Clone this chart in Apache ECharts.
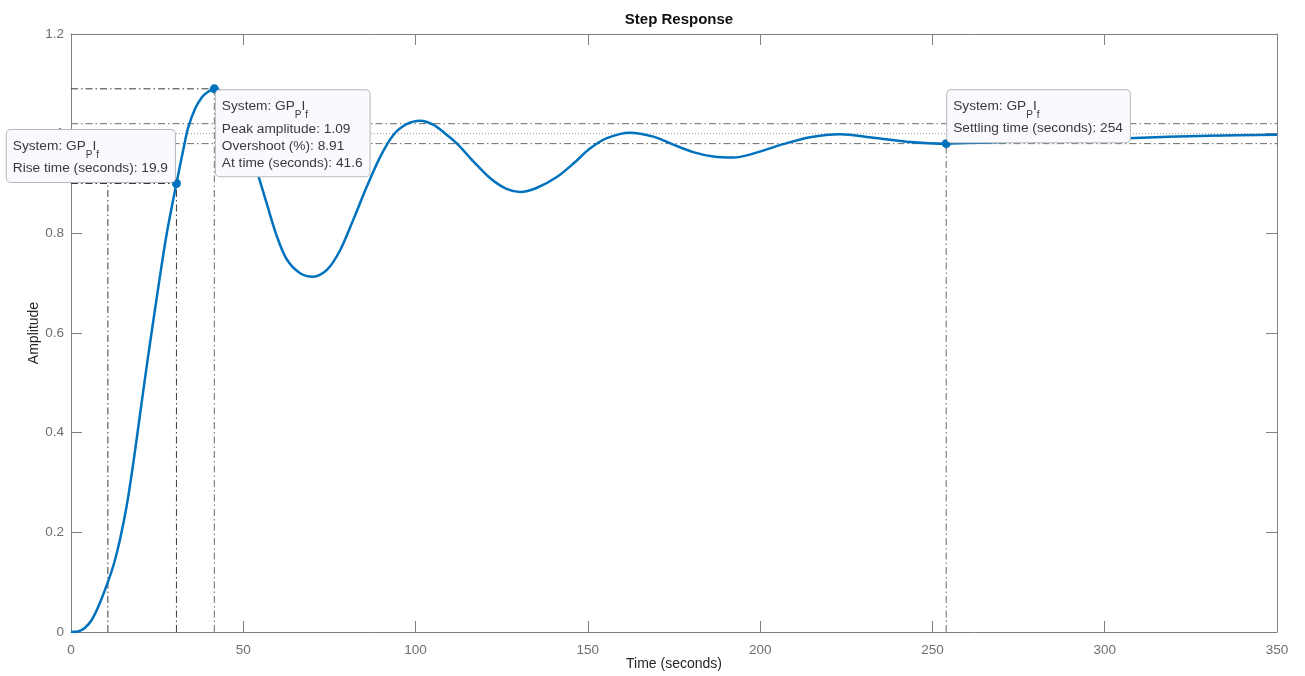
<!DOCTYPE html>
<html><head><meta charset="utf-8">
<script src="https://cdn.jsdelivr.net/npm/echarts@6/dist/echarts.min.js"></script>
<style>html,body{margin:0;padding:0;background:#fff}#c{width:1305px;height:676px}</style>
</head><body><div id="c"></div>
<script>
// ---- data ----
const timeS = [0,2,4,6,8,10.7,12.5,14.2,16.2,18.1,20,21.9,23.9,25.8,27.8,30.6,32.8,34,36,38,39.4,41.6,44,47,50,52,54.4,56.8,59.7,62.6,66.5,70.3,74.2,78.1,81.9,85.8,89.7,93.5,97.4,101.3,105.1,109,111.9,116.7,121.6,126.4,130.3,135.1,141,145.8,150.6,155.5,162.2,169,174.8,180.6,186.4,192.2,197,206.7,214.5,223.2,232.8,242.5,254,265,280,295,307,330,350];
const amplitude = [0,0.001,0.008,0.024,0.052,0.1,0.138,0.185,0.255,0.34,0.435,0.53,0.625,0.713,0.8,0.9,0.975,1.012,1.05,1.073,1.082,1.09,1.082,1.052,1.005,0.966,0.915,0.86,0.795,0.748,0.72,0.713,0.726,0.766,0.827,0.893,0.953,0.997,1.019,1.026,1.018,0.998,0.981,0.945,0.911,0.889,0.883,0.891,0.913,0.94,0.97,0.991,1.002,0.994,0.978,0.963,0.954,0.952,0.958,0.979,0.993,0.999,0.992,0.984,0.98,0.982,0.986,0.989,0.991,0.996,0.998];
const xRange = [0, 350, 50];
const yRange = [0, 1.2, 0.2];
const riseTimes = [10.7, 30.6];      // 10% and 90% crossing times
const riseLevels = [0.1, 0.9];
const riseTime = [19.9];
const peakPoint = [41.6, 1.09];
const overshootPct = [8.91];
const settlingPoint = [254, 0.98];
const settlingBand = [0.98, 1.02];
const finalValue = [1.0];
const systemName = ['GP', 'P', 'I', 'f'];

// ---- chart ----
const FONT = 'Liberation Sans, Arial, Helvetica, sans-serif';
const chart = echarts.init(document.getElementById('c'), null, {renderer: 'canvas'});
const DASHDOT = [7, 3, 1.5, 3];
function refLine(pts, color, type) {
  return {type: 'line', data: pts, symbol: 'none', silent: true, z: 2,
    lineStyle: {color: color, width: 1, type: type || DASHDOT}, animation: false};
}
const TXT = '#3a3a3a';
const rich = {
  m: {fontFamily: FONT, fontSize: 13.7, color: TXT, lineHeight: 28, verticalAlign: 'middle', align: 'left'},
  s: {fontFamily: FONT, fontSize: 10, color: TXT, lineHeight: 12, verticalAlign: 'bottom', align: 'left'},
  t: {fontFamily: FONT, fontSize: 13.7, color: TXT, lineHeight: 17, verticalAlign: 'middle', align: 'left'}
};
const sysLine = '{m|System: ' + systemName[0] + '}{s|' + systemName[1] + '}{m|' + systemName[2] + '}{s|' + systemName[3] + '}';
const boxStyle = {show: true, backgroundColor: '#fafafe', borderColor: '#b8b8b8', borderWidth: 1,
  borderRadius: 4, padding: [2, 7, 5, 6], rich: rich, opacity: 1};

const xMain = {type: 'value', min: xRange[0], max: xRange[1], interval: xRange[2],
  name: 'Time (seconds)', nameLocation: 'middle', nameGap: 25, nameMoveOverlap: false,
  nameTextStyle: {fontFamily: FONT, fontSize: 14, color: '#262626'},
  axisLine: {show: true, onZero: false, lineStyle: {color: '#808080', width: 1}},
  axisTick: {show: true, inside: true, length: 11, lineStyle: {color: '#808080'}},
  axisLabel: {fontFamily: FONT, fontSize: 13.5, color: '#6e6e6e', margin: 11},
  splitLine: {show: false}};
const yMain = {type: 'value', min: yRange[0], max: yRange[1], interval: yRange[2],
  name: 'Amplitude', nameLocation: 'middle', nameGap: 30, nameMoveOverlap: false,
  nameTextStyle: {fontFamily: FONT, fontSize: 14, color: '#262626'},
  axisLine: {show: true, onZero: false, lineStyle: {color: '#808080', width: 1}},
  axisTick: {show: true, inside: true, length: 11, lineStyle: {color: '#808080'}},
  axisLabel: {fontFamily: FONT, fontSize: 13.5, color: '#6e6e6e', margin: 7},
  splitLine: {show: false}};

const option = {
  animation: false,
  backgroundColor: '#ffffff',
  title: {text: 'Step Response', left: 674, top: 7, textAlign: 'center',
    textStyle: {fontFamily: FONT, fontSize: 15, fontWeight: 'bold', color: '#111'}},
  grid: {left: 71, right: 28, top: 34, bottom: 44, containLabel: false},
  xAxis: [xMain, Object.assign({}, xMain, {position: 'top', name: '', axisLabel: {show: false}})],
  yAxis: [yMain, Object.assign({}, yMain, {position: 'right', name: '', axisLabel: {show: false}})],
  series: [
    refLine([[xRange[0], settlingBand[1]], [xRange[1], settlingBand[1]]], '#6a6a6a'),
    refLine([[xRange[0], settlingBand[0]], [xRange[1], settlingBand[0]]], '#6a6a6a'),
    refLine([[xRange[0], finalValue[0]], [xRange[1], finalValue[0]]], '#9a9a9a', [1, 2]),
    refLine([[settlingPoint[0], 0], [settlingPoint[0], settlingPoint[1]]], '#6a6a6a'),
    refLine([[xRange[0], riseLevels[1]], [riseTimes[1], riseLevels[1]]], '#3a3a3a'),
    refLine([[riseTimes[0], 0], [riseTimes[0], riseLevels[1]]], '#3a3a3a'),
    refLine([[riseTimes[1], 0], [riseTimes[1], riseLevels[1]]], '#3a3a3a'),
    refLine([[xRange[0], peakPoint[1]], [peakPoint[0], peakPoint[1]]], '#3a3a3a'),
    refLine([[peakPoint[0], 0], [peakPoint[0], peakPoint[1]]], '#6a6a6a'),
    {type: 'line', data: timeS.map((t, i) => [t, amplitude[i]]), symbol: 'none', smooth: 0.3,
      z: 3, lineStyle: {color: '#0072BD', width: 2.5}, silent: true},
    {type: 'scatter', zlevel: 1, z: 5, symbolSize: 9, itemStyle: {color: '#0072BD', opacity: 1}, silent: true,
      data: [
        {value: [riseTimes[1], riseLevels[1]], label: Object.assign({}, boxStyle, {
          position: [3, 3], align: 'right', verticalAlign: 'bottom',
          formatter: sysLine + '\n{t|Rise time (seconds): ' + riseTime[0] + '}'})},
        {value: peakPoint, label: Object.assign({}, boxStyle, {
          position: [6, 6], align: 'left', verticalAlign: 'top',
          formatter: sysLine + '\n{t|Peak amplitude: ' + peakPoint[1] + '}\n{t|Overshoot (%): ' + overshootPct[0] + '}\n{t|At time (seconds): ' + peakPoint[0] + '}'})},
        {value: settlingPoint, label: Object.assign({}, boxStyle, {
          position: [5.5, 3], align: 'left', verticalAlign: 'bottom',
          formatter: sysLine + '\n{t|Settling time (seconds): ' + settlingPoint[0] + '}'})}
      ]}
  ]
};
chart.setOption(option);
</script></body></html>
